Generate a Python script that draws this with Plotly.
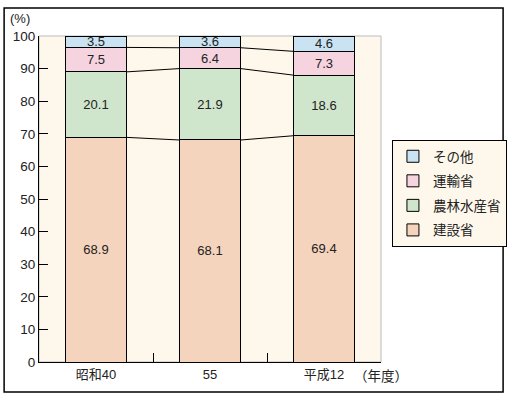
import plotly.graph_objects as go

categories = ["昭和40", "55", "平成12"]
series_names = ["建設省", "農林水産省", "運輸省", "その他"]
kensetsu = [68.9, 68.1, 69.4]
nourin = [20.1, 21.9, 18.6]
unyu = [7.5, 6.4, 7.3]
sonota = [3.5, 3.6, 4.6]
y_ticks = list(range(0, 101, 10))

colors = ["#f5d4bd", "#cfe6cd", "#f6d4df", "#c9e3f3"]
values = [kensetsu, nourin, unyu, sonota]

FONT = "Liberation Sans, Arial, Noto Sans CJK JP, sans-serif"
W = 0.54
xs = list(range(len(categories)))

fig = go.Figure()
for k, (name, vals, col) in enumerate(zip(series_names, values, colors)):
    fig.add_trace(go.Bar(
        x=xs, y=vals, name=name, width=W, legendgroup=name,
        legendrank=10 - k,
        marker=dict(color=col, line=dict(color="black", width=1)),
        text=[f"{v:.1f}" for v in vals], textposition="inside",
        insidetextanchor="middle", textangle=0,
        textfont=dict(size=13, color="#222", family=FONT),
        hoverinfo="skip",
    ))

# connector lines between cumulative segment tops
cum = [0, 0, 0]
for vals in values[:-1]:
    cum = [c + v for c, v in zip(cum, vals)]
    for i in range(len(categories) - 1):
        fig.add_trace(go.Scatter(
            x=[i + W / 2, i + 1 - W / 2], y=[cum[i], cum[i + 1]],
            mode="lines", line=dict(color="black", width=1),
            showlegend=False, hoverinfo="skip",
        ))

fig.update_layout(
    barmode="stack",
    width=508, height=399,
    margin=dict(l=39, r=127, t=36, b=37, autoexpand=False),
    paper_bgcolor="white",
    plot_bgcolor="#fef7eb",
    font=dict(family=FONT, size=13, color="#222"),
    uniformtext=dict(minsize=13, mode="show"),
    showlegend=True,
    legend=dict(
        x=1.032, y=0.681, xanchor="left", yanchor="top",
        traceorder="grouped",
        bgcolor="#fef7eb", bordercolor="black", borderwidth=1,
        font=dict(size=13.5, family="Noto Sans CJK JP, sans-serif"),
        itemwidth=30, tracegroupgap=4,
    ),
    xaxis=dict(
        range=[-0.5, 2.5], tickvals=xs, ticktext=categories,
        ticks="", showgrid=False, zeroline=False, automargin=False,
        showline=True, linecolor="black", linewidth=1,
        tickfont=dict(size=13, family=FONT),
        minor=dict(tickvals=[0.5, 1.5], ticks="inside", ticklen=9,
                   tickcolor="black", tickwidth=1, showgrid=False),
        fixedrange=True,
    ),
    yaxis=dict(
        range=[0, 100], tickvals=y_ticks, automargin=False,
        ticks="inside", ticklen=9, tickcolor="black",
        showgrid=False, zeroline=False,
        showline=True, linecolor="black", linewidth=1,
        tickfont=dict(size=13.5, family=FONT),
        fixedrange=True,
    ),
    shapes=[
        dict(type="rect", xref="paper", yref="paper", x0=0, x1=1, y0=0, y1=1,
             line=dict(color="#bbbbbb", width=1), layer="below"),
        dict(type="rect", xref="paper", yref="paper",
             x0=-0.102, x1=1.357, y0=-0.092, y1=1.086,
             line=dict(color="black", width=1.5)),
    ],
    annotations=[
        dict(text="(%)", xref="paper", yref="paper", x=-0.0906, y=1.055,
             xanchor="left", yanchor="middle", showarrow=False,
             font=dict(size=13, family=FONT)),
        dict(text="（年度）", xref="paper", yref="paper", x=0.915, y=-0.04,
             xanchor="left", yanchor="middle", showarrow=False,
             font=dict(size=13.5, family="Noto Sans CJK JP, sans-serif")),
    ],
)

fig.write_html("out.html", config={"displayModeBar": False},
               post_script="document.body.style.margin='0';")
